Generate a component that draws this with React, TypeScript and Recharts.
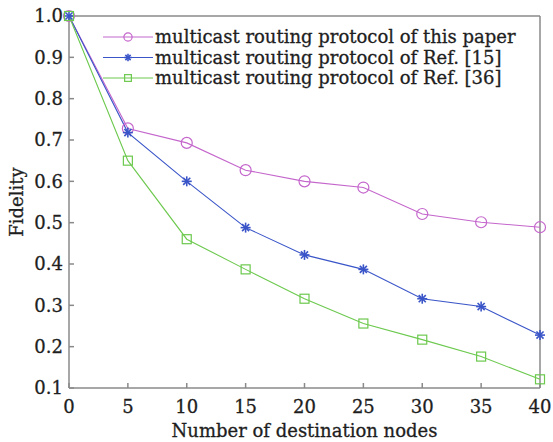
import React from 'react';
import { LineChart, Line, XAxis, YAxis, Legend, ReferenceLine } from 'recharts';

const nodes = [0, 5, 10, 15, 20, 25, 30, 35, 40];
const thisPaper = [1.0, 0.728, 0.693, 0.627, 0.6, 0.585, 0.521, 0.501, 0.489];
const ref15 = [1.0, 0.718, 0.6, 0.488, 0.422, 0.387, 0.316, 0.297, 0.228];
const ref36 = [1.0, 0.65, 0.46, 0.387, 0.316, 0.256, 0.217, 0.176, 0.121];

const xTicks = [0, 5, 10, 15, 20, 25, 30, 35, 40];
const yTicks = [0.1, 0.2, 0.3, 0.4, 0.5, 0.6, 0.7, 0.8, 0.9, 1.0];

const seriesNames = [
  'multicast routing protocol of this paper',
  'multicast routing protocol of Ref. [15]',
  'multicast routing protocol of Ref. [36]',
];
const colors = ['#c466cc', '#3a55c8', '#6cc94e'];

const data = nodes.map((n, i) => ({ n, a: thisPaper[i], b: ref15[i], c: ref36[i] }));

const FONT = '"DejaVu Serif", serif';
const AXIS = '#8a8a8a';
const INK = '#1e1e1e';

const Circle = ({ cx, cy, color, s = 1 }: any) => (
  <circle cx={cx} cy={cy} r={5.5 * s} fill="none" stroke={color} strokeWidth={1.2} />
);
const Square = ({ cx, cy, color, s = 1 }: any) => (
  <rect x={cx - 4.5 * s} y={cy - 4.5 * s} width={9 * s} height={9 * s} fill="none" stroke={color} strokeWidth={1.2} />
);
const Star = ({ cx, cy, color, s = 1 }: any) => {
  const r = 5 * s;
  const d = r * 0.7071;
  return (
    <g stroke={color} strokeWidth={1.6}>
      <line x1={cx - r} y1={cy} x2={cx + r} y2={cy} />
      <line x1={cx} y1={cy - r} x2={cx} y2={cy + r} />
      <line x1={cx - d} y1={cy - d} x2={cx + d} y2={cy + d} />
      <line x1={cx - d} y1={cy + d} x2={cx + d} y2={cy - d} />
    </g>
  );
};
const markers = [Circle, Star, Square];

const dotFor = (idx: number) => (props: any) => {
  const M = markers[idx];
  return <M key={`d${idx}-${props.index}`} cx={props.cx} cy={props.cy} color={colors[idx]} />;
};

const renderLegend = () => (
  <svg width={430} height={66}>
    {seriesNames.map((name, i) => {
      const M = markers[i];
      const y = 11 + i * 20.5;
      return (
        <g key={name}>
          <line x1={1} x2={51} y1={y} y2={y} stroke={colors[i]} strokeWidth={1.2} />
          <M cx={26} cy={y} color={colors[i]} s={0.75} />
          <text x={53} y={y + 6} fontFamily={FONT} fontSize={18} fill={INK} stroke={INK} strokeWidth={0.3}>
            {name}
          </text>
        </g>
      );
    })}
  </svg>
);

const YLabel = ({ viewBox }: any) => {
  const cy = viewBox.y + viewBox.height / 2;
  return (
    <text
      x={16}
      y={cy}
      transform={`rotate(-90, 16, ${cy})`}
      textAnchor="middle"
      dominantBaseline="central"
      fontFamily={FONT}
      fontSize={18}
      fill={INK}
      stroke={INK}
      strokeWidth={0.3}
    >
      Fidelity
    </text>
  );
};

const XLabel = ({ viewBox }: any) => (
  <text
    x={viewBox.x + viewBox.width / 2}
    y={437}
    textAnchor="middle"
    fontFamily={FONT}
    fontSize={18}
    fill={INK}
    stroke={INK}
    strokeWidth={0.3}
  >
    Number of destination nodes
  </text>
);

export default function App() {
  const tickStyle = { fontFamily: FONT, fontSize: 18, fill: INK, stroke: INK, strokeWidth: 0.3 };
  return (
    <div style={{ position: 'absolute', left: 0, top: 0, width: 553, height: 442, background: '#fff' }}>
      <LineChart width={553} height={442} data={data} margin={{ top: 16, right: 13, left: 0, bottom: 0 }}>
        <XAxis
          dataKey="n"
          type="number"
          domain={[0, 40]}
          ticks={xTicks}
          height={54}
          stroke={AXIS}
          strokeWidth={1.5}
          tickSize={-5}
          tickMargin={17}
          tick={tickStyle}
          label={<XLabel />}
        />
        <YAxis
          type="number"
          domain={[0.1, 1.0]}
          ticks={yTicks}
          width={69}
          stroke={AXIS}
          strokeWidth={1.5}
          tickSize={-5}
          tickMargin={11}
          tick={tickStyle}
          tickFormatter={(v: number) => v.toFixed(1)}
          label={<YLabel />}
        />
        <ReferenceLine y={1.0} stroke={AXIS} strokeWidth={1.5} />
        <ReferenceLine x={40} stroke={AXIS} strokeWidth={1.5} />
        <Legend
          layout="vertical"
          align="center"
          verticalAlign="middle"
          content={renderLegend}
          wrapperStyle={{ top: 26, left: 102, width: 430, height: 66 }}
        />
        <Line dataKey="a" name={seriesNames[0]} stroke={colors[0]} strokeWidth={1.1} dot={dotFor(0)} isAnimationActive={false} />
        <Line dataKey="b" name={seriesNames[1]} stroke={colors[1]} strokeWidth={1.1} dot={dotFor(1)} isAnimationActive={false} />
        <Line dataKey="c" name={seriesNames[2]} stroke={colors[2]} strokeWidth={1.1} dot={dotFor(2)} isAnimationActive={false} />
      </LineChart>
    </div>
  );
}
